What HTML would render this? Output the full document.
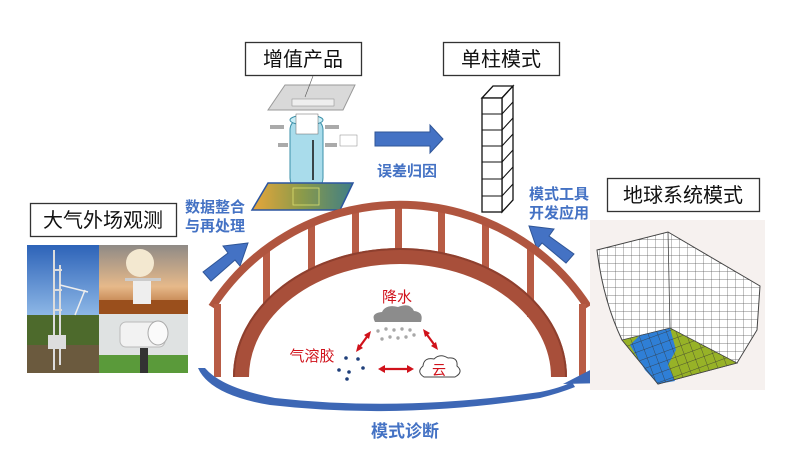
<!DOCTYPE html>
<html><head><meta charset="utf-8"><style>
html,body{margin:0;padding:0;background:#fff;width:799px;height:461px;overflow:hidden}
svg{display:block}
.cn{font-family:"Liberation Sans","Noto Sans CJK SC",sans-serif}
</style></head><body>
<svg width="799" height="461" viewBox="0 0 799 461" xmlns="http://www.w3.org/2000/svg" class="cn">
<defs>
<linearGradient id="sky1" x1="0" y1="0" x2="0" y2="1"><stop offset="0" stop-color="#2d63b8"/><stop offset="1" stop-color="#8db7e6"/></linearGradient>
<linearGradient id="sky2" x1="0" y1="0" x2="0" y2="1"><stop offset="0" stop-color="#8f8a86"/><stop offset="0.6" stop-color="#e6b98a"/><stop offset="1" stop-color="#b0642c"/></linearGradient>
<linearGradient id="map" x1="0" y1="0" x2="1" y2="0"><stop offset="0" stop-color="#e8a63a"/><stop offset="0.5" stop-color="#8a9a4a"/><stop offset="1" stop-color="#3f7e86"/></linearGradient>
<pattern id="grid" width="8" height="8" patternUnits="userSpaceOnUse"><path d="M8 0V8M0 8H8" stroke="#555" stroke-width="0.7" fill="none"/></pattern>
<pattern id="grid2" width="9" height="9" patternUnits="userSpaceOnUse" patternTransform="rotate(-20)"><path d="M9 0V9M0 9H9" stroke="#333" stroke-width="0.7" fill="none"/></pattern>
</defs>

<!-- boxes -->
<rect x="245.5" y="42.5" width="116" height="33" fill="#fff" stroke="#333" stroke-width="1.3"/>
<text x="303" y="66" font-size="20" text-anchor="middle" fill="#111">增值产品</text>
<rect x="443.5" y="42.5" width="116" height="33" fill="#fff" stroke="#333" stroke-width="1.3"/>
<text x="501" y="66" font-size="20" text-anchor="middle" fill="#111">单柱模式</text>
<rect x="30.5" y="203.5" width="146" height="33" fill="#fff" stroke="#333" stroke-width="1.3"/>
<text x="103" y="227" font-size="20" text-anchor="middle" fill="#111">大气外场观测</text>
<rect x="607.5" y="178.5" width="152" height="33" fill="#fff" stroke="#333" stroke-width="1.3"/>
<text x="683" y="202" font-size="20" text-anchor="middle" fill="#111">地球系统模式</text>

<!-- added-value product image -->
<polygon points="285,85 355,85 343,110 268,110" fill="#d9d9d9" stroke="#999"/>
<rect x="292" y="99" width="42" height="7" fill="#eee" stroke="#888" stroke-width="0.5"/>
<line x1="313" y1="76" x2="305" y2="97" stroke="#555" stroke-width="0.6"/>
<rect x="290" y="118" width="33" height="72" rx="12" fill="#a9dceb" stroke="#3a8fa8"/>
<ellipse cx="306.5" cy="120" rx="16.5" ry="5" fill="#c9eef7" stroke="#3a8fa8"/>
<rect x="296" y="114" width="22" height="20" fill="#fff" stroke="#666" stroke-width="0.5"/>
<line x1="313" y1="180" x2="313" y2="140" stroke="#111" stroke-width="1.5"/>
<path d="M270,127 h14 M325,127 h14 M278,145 h10 M325,145 h12" stroke="#aaa" stroke-width="4"/>
<rect x="340" y="135" width="17" height="11" fill="#fff" stroke="#888" stroke-width="0.5"/>
<polygon points="268,183 353,183 340,210 252,210" fill="url(#map)" stroke="#2c55a0" stroke-width="1.5"/>
<rect x="293" y="188" width="26" height="17" fill="none" stroke="#dbe070" stroke-width="0.8"/>

<!-- column -->
<g fill="#fff" stroke="#111" stroke-width="1.3">
<polygon points="482,98 493,86 513,86 502,98"/>
<polygon points="502,98 513,86 513,200 502,212"/>
<rect x="482" y="98" width="20" height="114"/>
</g>
<path d="M482,114H502L513,102M482,130H502L513,118M482,146H502L513,134M482,162H502L513,150M482,179H502L513,167M482,196H502L513,184" fill="none" stroke="#111" stroke-width="1.1"/>

<!-- arrows blue -->
<polygon points="375,132 430,132 430,125 443,139 430,153 430,146 375,146" fill="#4472c4" stroke="#2f5597"/>
<text x="407" y="176" font-size="15" font-weight="bold" fill="#4472c4" text-anchor="middle">误差归因</text>
<text x="215" y="212" font-size="15" font-weight="bold" fill="#4472c4" text-anchor="middle">数据整合</text>
<text x="215" y="231" font-size="15" font-weight="bold" fill="#4472c4" text-anchor="middle">与再处理</text>
<text x="559" y="199" font-size="15" font-weight="bold" fill="#4472c4" text-anchor="middle">模式工具</text>
<text x="559" y="218" font-size="15" font-weight="bold" fill="#4472c4" text-anchor="middle">开发应用</text>
<polygon points="203,272 228,253 223,246 248,243 240,266 235,260 211,281" fill="#4472c4" stroke="#2f5597"/>
<polygon points="574,254 549,236 554,229 529,226 537,249 542,243 566,263" fill="#4472c4" stroke="#2f5597"/>

<!-- bridge -->
<g fill="#b85c45">
<rect x="263" y="249" width="7" height="68"/>
<rect x="308" y="223" width="7" height="59"/>
<rect x="352" y="210" width="7" height="56"/>
<rect x="395" y="206" width="7" height="48"/>
<rect x="438" y="210" width="7" height="56"/>
<rect x="482" y="223" width="7" height="59"/>
<rect x="527" y="249" width="7" height="68"/>
</g>
<path d="M212,307 A224,224 0 0 1 588,307" fill="none" stroke="#b0553f" stroke-width="8"/>
<rect x="214" y="304" width="7" height="73" fill="#b85c45"/>
<rect x="579" y="304" width="7" height="73" fill="#b85c45"/>
<path d="M241,377 A159,121 0 0 1 559,377" fill="none" stroke="#a84f3a" stroke-width="16"/>
<path d="M234,377 A166,128 0 0 1 566,377" fill="none" stroke="#8e3f2e" stroke-width="2"/>

<!-- bottom arrow -->
<path d="M198,368 Q210,395 270,405 Q400,420 540,398 Q560,393 575,387 L572,382 Q560,388 540,392 Q400,412 275,398 Q222,388 205,368 Z" fill="#3d67b5"/>
<polygon points="563,384 598,366 606,383" fill="#3d67b5"/>
<text x="405" y="437" font-size="17" font-weight="bold" fill="#4472c4" text-anchor="middle">模式诊断</text>

<!-- cycle -->
<text x="397" y="302" font-size="15" fill="#d0121b" text-anchor="middle">降水</text>
<path d="M375,322 Q370,313 382,312 Q386,304 398,307 Q410,302 414,311 Q424,312 421,322 Z" fill="#8c8c8c"/>
<g fill="#a8a8a8"><circle cx="378" cy="331" r="1.7"/><circle cx="386" cy="329" r="1.7"/><circle cx="394" cy="330" r="1.7"/><circle cx="402" cy="329" r="1.7"/><circle cx="410" cy="330" r="1.7"/><circle cx="382" cy="339" r="1.7"/><circle cx="390" cy="337" r="1.7"/><circle cx="398" cy="338" r="1.7"/><circle cx="406" cy="337" r="1.7"/><circle cx="414" cy="335" r="1.7"/></g>
<g stroke="#d0121b" stroke-width="2.2" fill="#d0121b">
<line x1="358" y1="349" x2="369" y2="334"/><line x1="425" y1="332" x2="436" y2="347"/><line x1="382" y1="369" x2="410" y2="369"/>
</g>
<g fill="#d0121b">
<polygon points="371,331 369,339 364,335"/><polygon points="356,352 358,344 363,348"/>
<polygon points="423,329 430,333 425,337"/><polygon points="438,350 431,346 436,342"/>
<polygon points="378,369 385,365 385,373"/><polygon points="414,369 407,365 407,373"/>
</g>
<path d="M424,377 Q416,372 423,366 Q424,357 434,359 Q440,353 448,358 Q458,357 457,366 Q464,372 455,377 Z" fill="#fff" stroke="#444" stroke-width="1"/>
<text x="439" y="375" font-size="14" fill="#d0121b" text-anchor="middle">云</text>
<text x="312" y="361" font-size="15" fill="#d0121b" text-anchor="middle">气溶胶</text>
<g fill="#1f3f7a"><circle cx="346" cy="358" r="1.8"/><circle cx="358" cy="359" r="1.8"/><circle cx="363" cy="368" r="1.8"/><circle cx="339" cy="370" r="1.8"/><circle cx="349" cy="372" r="1.8"/><circle cx="347" cy="379" r="1.8"/></g>

<!-- left photo -->
<rect x="27" y="245" width="72" height="70" fill="url(#sky1)"/>
<rect x="27" y="315" width="72" height="58" fill="#4d6a2c"/>
<rect x="27" y="345" width="72" height="28" fill="#6b5a3e"/>
<path d="M54,250V370M60,265V365M54,270H62M54,290H62M54,310H62" stroke="#ddd" stroke-width="2"/>
<path d="M60,285L88,292M75,315L85,290" stroke="#eee" stroke-width="1.5"/>
<rect x="48" y="335" width="18" height="14" fill="#ddd"/>
<rect x="99" y="245" width="89" height="69" fill="url(#sky2)"/>
<rect x="99" y="300" width="89" height="14" fill="#9a4f1c"/>
<circle cx="140" cy="263" r="14" fill="#f3e8d0"/>
<rect x="125" y="278" width="36" height="3" fill="#ccc"/>
<rect x="133" y="281" width="18" height="23" fill="#eee"/>
<rect x="99" y="314" width="89" height="59" fill="#dfe2e2"/>
<rect x="99" y="355" width="89" height="18" fill="#5a9a3a"/>
<rect x="120" y="322" width="45" height="25" rx="6" fill="#f2f2f2" stroke="#bbb"/>
<ellipse cx="158" cy="333" rx="10" ry="12" fill="#fafafa" stroke="#aaa"/>
<rect x="140" y="348" width="8" height="25" fill="#333"/>

<!-- right globe -->
<rect x="590" y="220" width="175" height="170" fill="#f6f1ef"/>
<path d="M597,250 L668,232 L760,286 L757,330 L737,363 L658,384 L622,340 Q603,300 597,250 Z" fill="#fff"/>
<path d="M597,250 L668,232 L760,286 L757,330 L737,363 L658,384 L622,340 Q603,300 597,250 Z" fill="url(#grid)" stroke="#444" stroke-width="1"/>
<polygon points="622,340 670,328 737,363 658,384" fill="#97b227"/>
<path d="M640,335 L670,328 L676,350 L668,365 L675,381 L658,384 L645,370 L630,345 Z" fill="#2f7fd6"/>
<polygon points="622,340 670,328 737,363 658,384" fill="url(#grid2)" stroke="#444" stroke-width="0.8"/>
<line x1="668" y1="232" x2="670" y2="328" stroke="#444" stroke-width="0.8"/>
</svg>
</body></html>
